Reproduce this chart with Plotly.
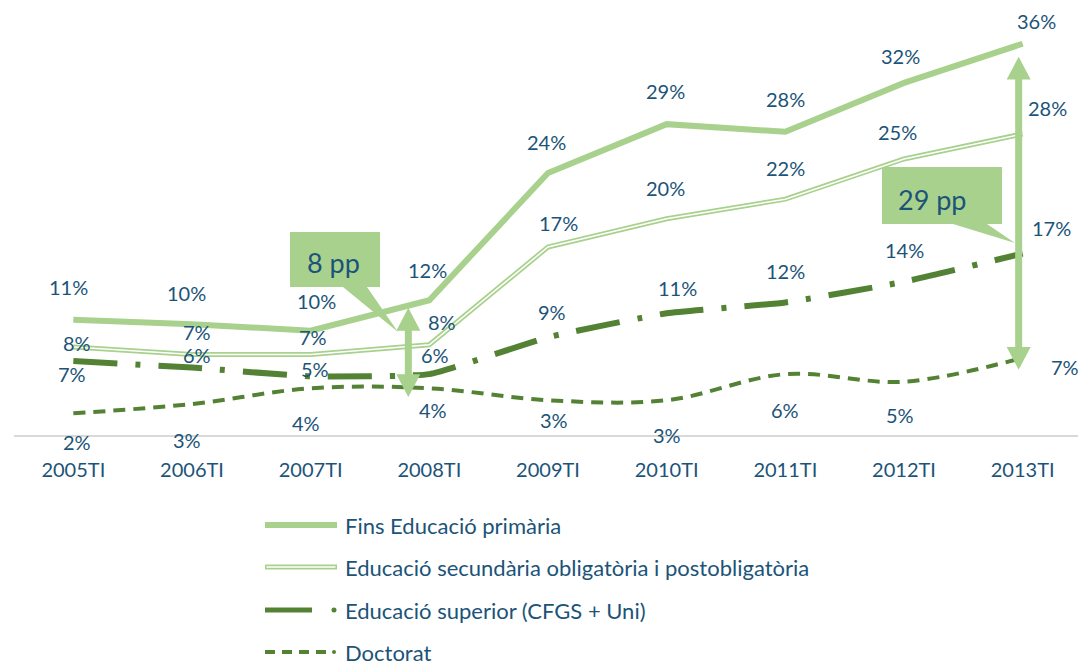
import plotly.graph_objects as go

# ---------------- data ----------------
years = ["2005TI", "2006TI", "2007TI", "2008TI", "2009TI", "2010TI", "2011TI", "2012TI", "2013TI"]
primaria = [10.6, 10.2, 9.6, 12.4, 24.1, 28.6, 27.9, 32.4, 36.0]
secundaria = [8.1, 7.4, 7.4, 8.3, 17.3, 19.9, 21.7, 25.4, 27.7]
superior = [6.8, 6.2, 5.4, 5.6, 9.0, 11.2, 12.2, 14.1, 16.7]
doctorat = [2.0, 2.85, 4.3, 4.3, 3.2, 3.2, 5.6, 4.9, 7.1]
series_names = ["Fins Educació primària",
                "Educació secundària obligatòria i postobligatòria",
                "Educació superior (CFGS + Uni)",
                "Doctorat"]

# label offsets (pixels): (dx, dy) ; dy positive = up
off_primaria = [(-5, 33), (-6, 31), (6, 30), (-2, 30), (-2, 31), (-1, 33), (0, 33), (-4, 27), (14, 23)]
off_secundaria = [(4, 4), (5, 23), (2, 18), (13, 23), (10, 24), (-1, 31), (0, 31), (-7, 27), (25, 26)]
off_superior = [(-1, -13), (5, 13), (4, 7), (6, 19), (4, 25), (11, 25), (0, 31), (0, 32), (29, 26)]
off_doctorat = [(4, -29), (-5, -36), (-5, -35), (4, -22), (6, -20), (0, -35), (0, -36), (-4, -33), (42, -9)]

LIGHT = "#A9D18E"
DARK = "#548235"
TXT = "#1B5478"
FONT = "Lato"

# page body has an 8px margin: the figure starts at (8, 8) on screen
OFF = 8
W, H = 1086 - OFF, 666 - OFF
PL, PR, PT, PB = 14, 1082, 22, 435          # plot area in screen pixels
ML, MR, MT, MB = PL - OFF, W - (PR - OFF), PT - OFF, H - (PB - OFF)
PW, PH = PR - PL, PB - PT


def px(xs):
    return (xs - PL) / PW


def py(ys):
    return (PB - ys) / PH


fig = go.Figure()

fig.add_trace(go.Scatter(x=years, y=primaria, mode="lines",
                         line=dict(color=LIGHT, width=6), showlegend=False))
fig.add_trace(go.Scatter(x=years, y=secundaria, mode="lines",
                         line=dict(color=LIGHT, width=5), showlegend=False))
fig.add_trace(go.Scatter(x=years, y=secundaria, mode="lines",
                         line=dict(color="white", width=1.5), showlegend=False))
fig.add_trace(go.Scatter(x=years, y=superior, mode="lines",
                         line=dict(color=DARK, width=6, dash="44px,18px,5px,18px",
                                   shape="spline", smoothing=0.4), showlegend=False))
fig.add_trace(go.Scatter(x=years, y=doctorat, mode="lines",
                         line=dict(color=DARK, width=4, dash="12px,8px",
                                   shape="spline", smoothing=1.0), showlegend=False))

annotations = []
for vals, offs in [(primaria, off_primaria), (secundaria, off_secundaria),
                   (superior, off_superior), (doctorat, off_doctorat)]:
    for i, (v, (dx, dy)) in enumerate(zip(vals, offs)):
        annotations.append(dict(x=years[i], y=v, xref="x", yref="y",
                                text=f"{round(v):.0f}%", showarrow=False,
                                xanchor="center", yanchor="middle",
                                xshift=dx, yshift=dy,
                                font=dict(family=FONT, size=20, color=TXT)))

shapes = []


# double-headed arrows anchored to the data
def arrow(idx, y_top, y_bot, dx):
    sh, hd, hh = 3.5, 12, 2.1
    p = (f"M{dx},{y_top} L{dx+hd},{y_top-hh} L{dx+sh},{y_top-hh} L{dx+sh},{y_bot+hh} "
         f"L{dx+hd},{y_bot+hh} L{dx},{y_bot} L{dx-hd},{y_bot+hh} L{dx-sh},{y_bot+hh} "
         f"L{dx-sh},{y_top-hh} L{dx-hd},{y_top-hh} Z")
    return dict(type="path", path=p, xref="x", yref="y", xsizemode="pixel",
                xanchor=idx, fillcolor=LIGHT, line=dict(width=0), layer="above")


shapes.append(arrow(3, primaria[3] - 0.7, doctorat[3] - 0.8, -21))
shapes.append(arrow(8, primaria[8] - 1.2, doctorat[8] - 1.1, -4))


# callout boxes
def callout(x0, y0, x1, y1, b0, b1, tx, ty):
    pts = [(x0, y0), (x1, y0), (x1, y1), (b1, y1), (tx, ty), (b0, y1), (x0, y1)]
    p = "M" + " L".join(f"{px(a):.5f},{py(b):.5f}" for a, b in pts) + " Z"
    return dict(type="path", path=p, xref="paper", yref="paper",
                fillcolor=LIGHT, line=dict(width=0), layer="above")


shapes.append(callout(290, 232, 380, 287, 343, 367, 398, 332))
shapes.append(callout(882, 167, 1002, 224, 953, 987, 1015, 243))
annotations.append(dict(x=px(333), y=py(262), xref="paper", yref="paper", text="8 pp",
                        xanchor="center", yanchor="middle",
                        showarrow=False, font=dict(family=FONT, size=27, color=TXT)))
annotations.append(dict(x=px(932), y=py(199), xref="paper", yref="paper", text="29 pp",
                        xanchor="center", yanchor="middle",
                        showarrow=False, font=dict(family=FONT, size=27, color=TXT)))

# manual legend
rows = [525, 567, 610, 652]
lx0, lx1, tx = 265, 337, 343


def hline(y, color, width, dash="solid", x0=lx0, x1=lx1):
    return dict(type="line", xref="paper", yref="paper", x0=px(x0), x1=px(x1),
                y0=py(y), y1=py(y), line=dict(color=color, width=width, dash=dash))


shapes.append(hline(rows[0], LIGHT, 6))
shapes.append(hline(rows[1], LIGHT, 5))
shapes.append(hline(rows[1], "white", 1.5, x0=lx0 + 1.5, x1=lx1 - 1.5))
shapes.append(hline(rows[2], DARK, 5, x1=312))
shapes.append(dict(type="circle", xref="paper", yref="paper",
                   x0=px(331.5), x1=px(336.5), y0=py(rows[2] + 2.5), y1=py(rows[2] - 2.5),
                   fillcolor=DARK, line=dict(width=0)))
shapes.append(hline(rows[3], DARK, 4, dash="10px,7px", x1=327))
shapes.append(dict(type="circle", xref="paper", yref="paper",
                   x0=px(332), x1=px(336), y0=py(rows[3] + 2), y1=py(rows[3] - 2),
                   fillcolor=DARK, line=dict(width=0)))
for r, name in zip(rows, series_names):
    annotations.append(dict(x=px(tx), y=py(r), xref="paper", yref="paper", text=name,
                            xanchor="left", yanchor="middle", showarrow=False,
                            font=dict(family=FONT, size=22, color=TXT)))

fig.update_layout(
    width=W, height=H, margin=dict(l=ML, r=MR, t=MT, b=MB, autoexpand=False),
    paper_bgcolor="white", plot_bgcolor="white",
    showlegend=False,
    xaxis=dict(type="category", range=[-0.5, 8.5], showgrid=False, zeroline=False,
               showline=True, linecolor="#D9D9D9", linewidth=1.5,
               ticks="outside", ticklen=16, tickcolor="rgba(0,0,0,0)", automargin=False,
               tickfont=dict(family=FONT, size=20, color=TXT), fixedrange=True),
    yaxis=dict(range=[0, 38], visible=False, fixedrange=True, automargin=False),
    shapes=shapes, annotations=annotations,
)
for tr in fig.data:
    tr.cliponaxis = False

fig.write_html("out.html")
